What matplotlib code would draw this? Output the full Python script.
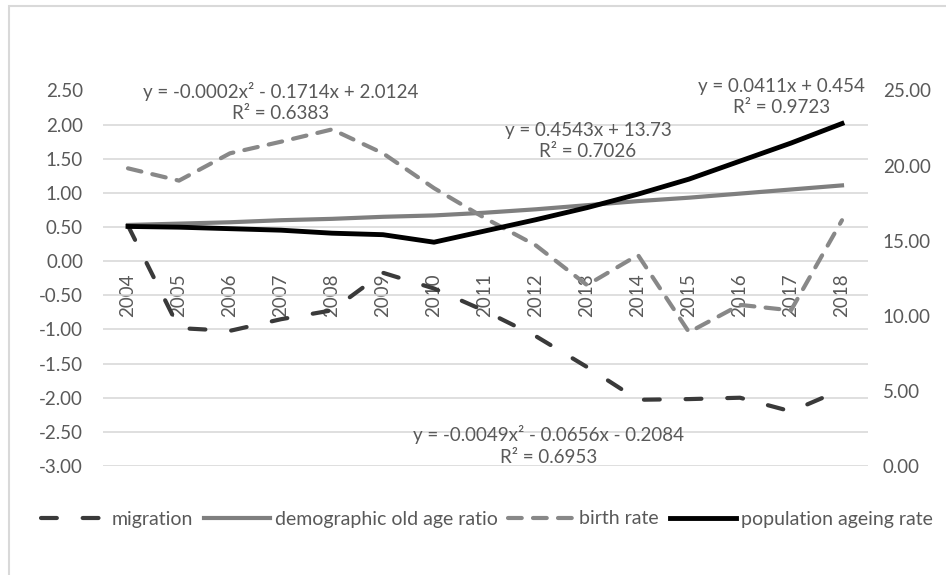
import matplotlib
matplotlib.use("Agg")
import matplotlib.pyplot as plt
from matplotlib.patches import Rectangle

plt.rcParams["font.family"] = ["Lato", "DejaVu Sans"]

YEARS = [str(y) for y in range(2004, 2019)]

# left axis
MIGRATION = [0.52, -0.98, -1.02, -0.85, -0.72, -0.17, -0.40, -0.73,
             -1.10, -1.55, -2.03, -2.02, -2.00, -2.20, -1.88]
OLD_AGE_RATIO = [0.53, 0.55, 0.57, 0.60, 0.62, 0.65, 0.67, 0.71,
                 0.76, 0.82, 0.88, 0.93, 0.99, 1.05, 1.11]
BIRTH_RATE = [1.36, 1.18, 1.58, 1.75, 1.93, 1.58, 1.07, 0.63,
              0.23, -0.35, 0.09, -1.04, -0.64, -0.72, 0.60]
# right axis
AGEING_RATE = [15.95, 15.9, 15.8, 15.7, 15.5, 15.4, 14.9, 15.65,
               16.4, 17.2, 18.1, 19.1, 20.3, 21.5, 22.8]

LEFT_TICKS = [-3.0, -2.5, -2.0, -1.5, -1.0, -0.5, 0.0, 0.5, 1.0, 1.5, 2.0, 2.5]
RIGHT_TICKS = [0, 5, 10, 15, 20, 25]

TRENDLINES = [
    ("y = -0.0002x² - 0.1714x + 2.0124\nR² = 0.6383", 3.0, 2.33),
    ("y = 0.4543x + 13.73\nR² = 0.7026", 9.02, 1.76),
    ("y = 0.0411x + 0.454\nR² = 0.9723", 12.82, 2.40),
    ("y = -0.0049x² - 0.0656x - 0.2084\nR² = 0.6953", 8.25, -2.70),
]

TXT = "#595959"
GRID = "#d9d9d9"

fig = plt.figure(figsize=(9.46, 5.75), dpi=100)
ax = fig.add_axes([102.5 / 946, 1 - 466 / 575, 765 / 946, 375.5 / 575])
ax2 = ax.twinx()

for a in (ax, ax2):
    for s in a.spines.values():
        s.set_visible(False)
# category axis crosses at 0 (must come before tick setup)
ax.spines["bottom"].set_position(("data", 0))

x = list(range(len(YEARS)))

mig, = ax.plot(x, MIGRATION, color="#3a3a3a", lw=3, dashes=(3.8, 6.2),
               dash_capstyle="round", label="migration", zorder=3)
old, = ax.plot(x, OLD_AGE_RATIO, color="#7f7f7f", lw=3,
               label="demographic old age ratio", zorder=3)
bir, = ax.plot(x, BIRTH_RATE, color="#888888", lw=3, dashes=(3.3, 2.7),
               dash_capstyle="round", label="birth rate", zorder=3)
age, = ax2.plot(x, AGEING_RATE, color="black", lw=3.5,
                label="population ageing rate", zorder=3)

ax.set_xlim(-0.5, len(YEARS) - 0.5)
ax.set_ylim(-3.0, 2.5)
ax2.set_ylim(0, 25)

ax.set_yticks(LEFT_TICKS)
ax.set_yticklabels([f"{v:.2f}" for v in LEFT_TICKS])
ax2.set_yticks(RIGHT_TICKS)
ax2.set_yticklabels([f"{v:.2f}" for v in RIGHT_TICKS])
ax.set_xticks(x)
ax.set_xticklabels(YEARS)

ax.grid(axis="y", color=GRID, lw=1.2, zorder=0)
ax.set_axisbelow(True)

ax.tick_params(axis="y", length=0, pad=14, labelsize=13.5, labelcolor=TXT)
ax.tick_params(axis="x", length=0, pad=9, labelsize=13.5, labelcolor=TXT,
               labelrotation=90)
ax2.tick_params(axis="y", length=0, pad=11, labelsize=13.5, labelcolor=TXT)

for txt, tx, ty in TRENDLINES:
    ax.text(tx, ty, txt, ha="center", va="center", multialignment="center",
            fontsize=13.5, color=TXT, linespacing=1.3, zorder=5)

fig.legend(handles=[mig, old, bir, age], loc="center left",
           bbox_to_anchor=(33 / 946, 1 - 519 / 575), ncol=4, frameon=False,
           fontsize=14, labelcolor=TXT, handlelength=3.4,
           handletextpad=0.25, columnspacing=0.55, borderaxespad=0)

fig.add_artist(Rectangle((9 / 946, -0.1), 1.2, 1.1 - 6 / 575,
                         transform=fig.transFigure, fill=False,
                         edgecolor=GRID, lw=1.5))

fig.savefig("out.png", dpi=100)
